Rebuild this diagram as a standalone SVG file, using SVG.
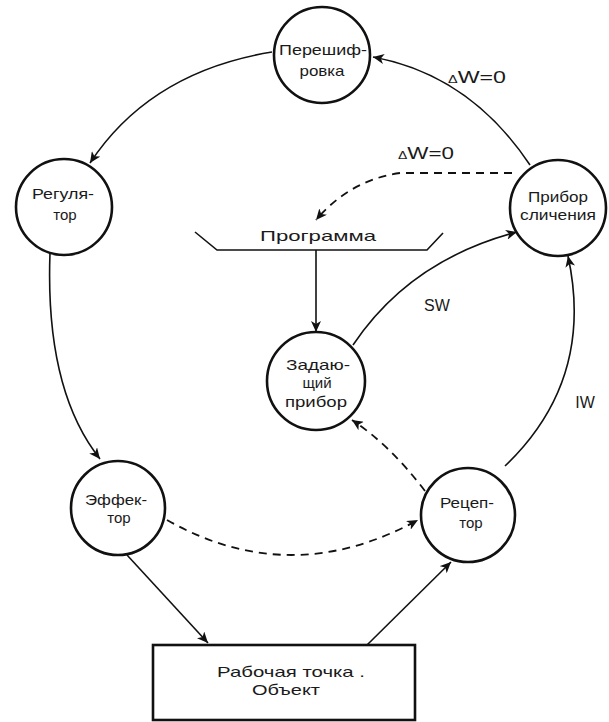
<svg xmlns="http://www.w3.org/2000/svg" width="609" height="722" viewBox="0 0 609 722">
<defs>
<style>
.node{fill:#fff;stroke:#111;stroke-width:2.6}
.t{font-family:"Liberation Sans",Arial,sans-serif;font-size:15px;fill:#1a1a1a;text-anchor:middle}
.c{fill:none;stroke:#111;stroke-width:1.6}
.d{fill:none;stroke:#111;stroke-width:1.8;stroke-dasharray:8,6}
.lbl{font-family:"Liberation Sans",Arial,sans-serif;font-size:16px;fill:#1a1a1a;text-anchor:middle}
</style>
<marker id="ar" viewBox="0 0 12 10" refX="11" refY="5" markerWidth="12" markerHeight="10" markerUnits="userSpaceOnUse" orient="auto">
<path d="M0,0 L11,5 L0,10 L3,5 Z" fill="#111"/>
</marker>
</defs>
<rect width="609" height="722" fill="#fff"/>
<g id="connectors">
<path class="c" d="M530,165 Q470,75 373,57" marker-end="url(#ar)"/>
<path class="c" d="M272,52 Q150,72 90,163" marker-end="url(#ar)"/>
<path class="c" d="M50,253 Q45,390 100,459" marker-end="url(#ar)"/>
<path class="c" d="M127,555 L208,643" marker-end="url(#ar)"/>
<path class="c" d="M367,645 L451,562" marker-end="url(#ar)"/>
<path class="c" d="M505,466 Q595,380 568,256" marker-end="url(#ar)"/>
<path class="c" d="M353,345 Q410,260 517,232" marker-end="url(#ar)"/>
<path class="c" d="M316,250 L316,332" marker-end="url(#ar)"/>
<path class="d" d="M512,173 L400,173 Q350,180 316,220" marker-end="url(#ar)"/>
<path class="d" d="M167,520 Q290,590 418,520" marker-end="url(#ar)"/>
<path class="d" d="M425,491 Q390,445 352,420" marker-end="url(#ar)"/>
<path class="c" d="M195,232 L217,250 L427,250 L443,233" stroke-width="2"/>
<text class="lbl" x="477" y="83" textLength="58" lengthAdjust="spacingAndGlyphs"><tspan font-size="10">Δ</tspan>W=0</text>
<text class="lbl" x="426" y="159" textLength="56" lengthAdjust="spacingAndGlyphs"><tspan font-size="10">Δ</tspan>W=0</text>
<text class="lbl" x="437" y="311">SW</text>
<text class="lbl" x="585" y="408">IW</text>
</g>
<g id="pereshifrovka">
<circle class="node" cx="322" cy="55" r="48"/>
<text class="t" x="323" y="55" textLength="88" lengthAdjust="spacingAndGlyphs">Перешиф-</text>
<text class="t" x="322" y="76" textLength="45" lengthAdjust="spacingAndGlyphs">ровка</text>
</g>
<g id="regulyator">
<circle class="node" cx="64" cy="207" r="48"/>
<text class="t" x="63" y="199" textLength="62" lengthAdjust="spacingAndGlyphs">Регуля-</text>
<text class="t" x="65" y="220">тор</text>
</g>
<g id="pribor-slicheniya">
<circle class="node" cx="558" cy="208" r="48"/>
<text class="t" x="558" y="202" textLength="60" lengthAdjust="spacingAndGlyphs">Прибор</text>
<text class="t" x="558" y="220" textLength="76" lengthAdjust="spacingAndGlyphs">сличения</text>
</g>
<g id="programma">
<text class="t" x="318" y="241" font-size="17" textLength="116" lengthAdjust="spacingAndGlyphs">Программа</text>
</g>
<g id="zadayushchiy">
<circle class="node" cx="316" cy="381" r="49"/>
<text class="t" x="318" y="370" textLength="64" lengthAdjust="spacingAndGlyphs">Задаю-</text>
<text class="t" x="317" y="388">щий</text>
<text class="t" x="316" y="407" textLength="62" lengthAdjust="spacingAndGlyphs">прибор</text>
</g>
<g id="effektor">
<circle class="node" cx="118" cy="508" r="47"/>
<text class="t" x="116" y="505" textLength="62" lengthAdjust="spacingAndGlyphs">Эффек-</text>
<text class="t" x="119" y="523">тор</text>
</g>
<g id="retseptor">
<circle class="node" cx="468" cy="515" r="47"/>
<text class="t" x="467" y="508" textLength="54" lengthAdjust="spacingAndGlyphs">Рецеп-</text>
<text class="t" x="471" y="528">тор</text>
</g>
<g id="rabochaya-tochka">
<rect x="153" y="645" width="262" height="75" fill="#fff" stroke="#111" stroke-width="2.6"/>
<text class="t" x="291" y="677" textLength="148" lengthAdjust="spacingAndGlyphs">Рабочая точка .</text>
<text class="t" x="286" y="695" textLength="68" lengthAdjust="spacingAndGlyphs">Объект</text>
</g>
</svg>
